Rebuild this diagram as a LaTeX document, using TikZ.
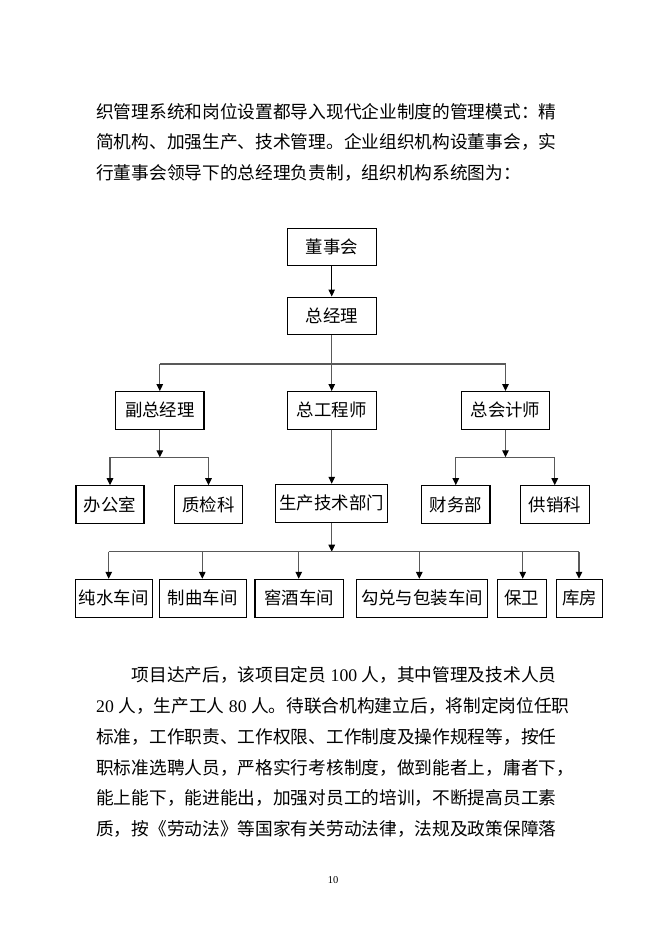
\documentclass[tikz,border=0pt]{standalone}
\usepackage{fontspec}
\newfontfamily\cjk{Noto Sans CJK SC}
\newfontfamily\lat{Liberation Serif}
\usetikzlibrary{arrows.meta}
\begin{document}
\begin{tikzpicture}[x=1pt,y=-1pt,
  box/.style={draw=black, line width=1.1pt, inner sep=0pt, minimum height=37.5pt, fill=white,
    font=\cjk\fontsize{17.4}{17.4}\selectfont},
  conn/.style={draw=black!65, line width=1.3pt},
  arr/.style={conn, -{Triangle[length=7pt,width=6.5pt,color=black]}},
  para/.style={anchor=base west, inner sep=0pt, font=\cjk\fontsize{17.7}{17.7}\selectfont},
  pagenum/.style={inner sep=0pt, font=\lat\fontsize{10.5}{12}\selectfont}]
\fill[white] (0,0) rectangle (662,936);
\useasboundingbox (0,0) rectangle (662,936);

% upper paragraph
\node[para] (p1) at (96,118.3) {织管理系统和岗位设置都导入现代企业制度的管理模式：精};
\node[para] (p2) at (96,149) {简机构、加强生产、技术管理。企业组织机构设董事会，实};
\node[para] (p3) at (96,179.7) {行董事会领导下的总经理负责制，组织机构系统图为：};

% boxes
\node[box, minimum width=88.7pt] (dsh) at (331.7,247) {董事会};
\node[box, minimum width=88.7pt] (zjl) at (331.7,315.8) {总经理};
\node[box, minimum width=88.3pt] (fzjl) at (159.8,410.3) {副总经理};
\node[box, minimum width=88.7pt] (zgcs) at (331.7,410.3) {总工程师};
\node[box, minimum width=87.7pt] (zkjs) at (505.5,410.3) {总会计师};
\node[box, minimum width=68pt] (bgs) at (110,504.5) {办公室};
\node[box, minimum width=68.4pt] (zjk) at (208.5,504.5) {质检科};
\node[box, minimum width=112pt, minimum height=38pt] (scjs) at (331.7,503.3) {生产技术部门};
\node[box, minimum width=68.3pt] (cwb) at (455.8,504.5) {财务部};
\node[box, minimum width=68.7pt] (gxk) at (554.7,504.5) {供销科};
\node[box, minimum width=77.3pt, minimum height=38pt] (csc) at (113.7,598.3) {纯水车间};
\node[box, minimum width=87.3pt, minimum height=38pt] (zqc) at (202.7,598.3) {制曲车间};
\node[box, minimum width=88.7pt, minimum height=38pt] (jjc) at (299.3,598.3) {窖酒车间};
\node[box, minimum width=130.7pt, minimum height=38pt] (gdc) at (422,598.3) {勾兑与包装车间};
\node[box, minimum width=48.7pt, minimum height=38pt] (bw) at (521.7,598.3) {保卫};
\node[box, minimum width=46.3pt, minimum height=38pt] (kf) at (579.5,598.3) {库房};

% bus coordinates
\coordinate (b1) at (331.7,364);
\coordinate (b2) at (159.8,457.3);
\coordinate (b3) at (505.5,457.3);
\coordinate (b4) at (331.7,551.7);
\coordinate (t1) at (108.7,551.7);
\coordinate (t2) at (202.3,551.7);
\coordinate (t3) at (298.7,551.7);
\coordinate (t4) at (419.3,551.7);
\coordinate (t5) at (522.7,551.7);
\coordinate (t6) at (579,551.7);

% level 1
\draw[arr, draw=black, line width=1pt] (dsh) -- (zjl);
\draw[arr] (zjl) -- (zgcs);
\draw[conn] (b1 -| fzjl) -- (b1 -| zkjs);
\draw[arr] (b1 -| fzjl) -- (fzjl);
\draw[arr] (b1 -| zkjs) -- (zkjs);

% left branch
\draw[arr] (fzjl) -- (b2);
\draw[conn] (b2 -| bgs) -- (b2 -| zjk);
\draw[arr] (b2 -| bgs) -- (bgs);
\draw[arr] (b2 -| zjk) -- (zjk);

% middle
\draw[arr] (zgcs) -- (scjs);

% right branch
\draw[arr] (zkjs) -- (b3);
\draw[conn] (b3 -| cwb) -- (b3 -| gxk);
\draw[arr] (b3 -| cwb) -- (cwb);
\draw[arr] (b3 -| gxk) -- (gxk);

% workshops
\draw[arr] (scjs) -- (b4);
\draw[conn] (t1) -- (t6);
\draw[arr] (t1) -- (t1 |- csc.north);
\draw[arr] (t2) -- (t2 |- zqc.north);
\draw[arr] (t3) -- (t3 |- jjc.north);
\draw[arr] (t4) -- (t4 |- gdc.north);
\draw[arr] (t5) -- (t5 |- bw.north);
\draw[arr] (t6) -- (t6 |- kf.north);

% lower paragraph
\node[para] (q1) at (131.4,681.7) {项目达产后，该项目定员{\lat\ 100\ }人，其中管理及技术人员};
\node[para] (q2) at (96,712.5) {{\lat 20\ }人，生产工人{\lat\ 80\ }人。待联合机构建立后，将制定岗位任职};
\node[para] (q3) at (96,743.3) {标准，工作职责、工作权限、工作制度及操作规程等，按任};
\node[para] (q4) at (96,774.1) {职标准选聘人员，严格实行考核制度，做到能者上，庸者下，};
\node[para] (q5) at (96,804.9) {能上能下，能进能出，加强对员工的培训，不断提高员工素};
\node[para] (q6) at (96,835.7) {质，按《劳动法》等国家有关劳动法律，法规及政策保障落};

\node[pagenum] (pn) at (333,880) {10};
\end{tikzpicture}
\end{document}
